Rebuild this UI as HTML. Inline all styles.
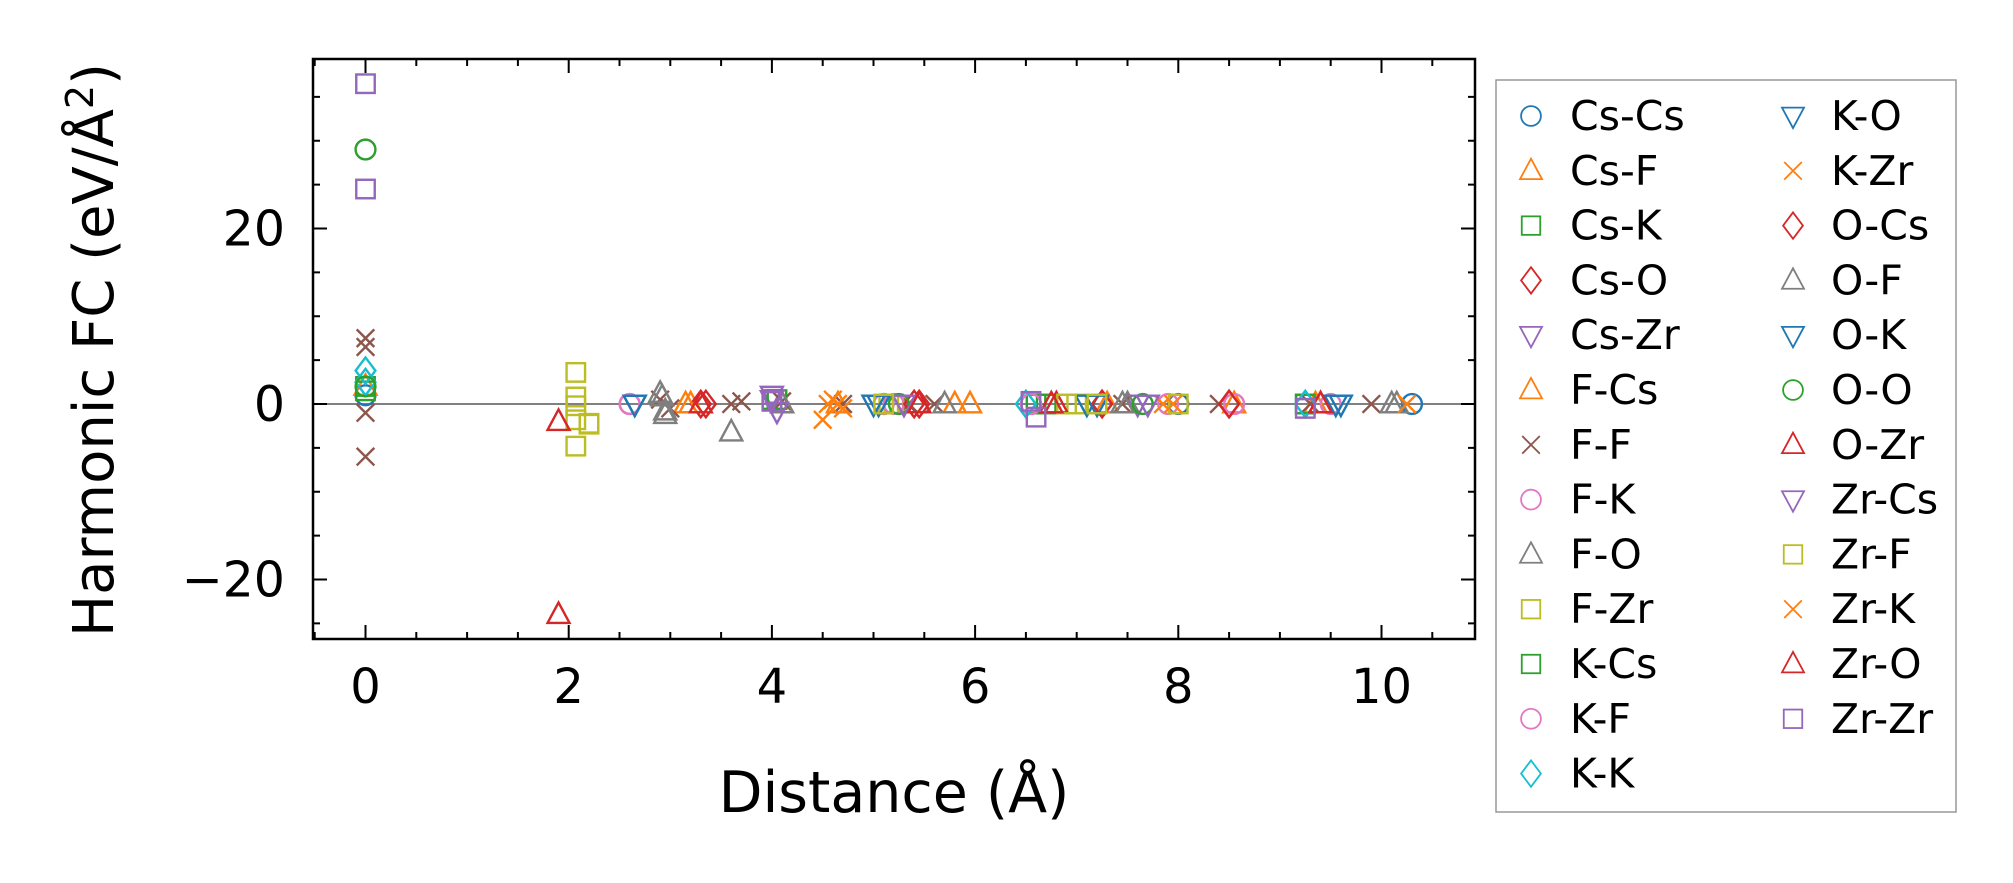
<!DOCTYPE html>
<html><head><meta charset="utf-8"><style>
html,body{margin:0;padding:0;background:#fff}
svg{display:block;font-family:"DejaVu Sans","Liberation Sans",sans-serif}
</style></head><body>
<svg id="chart" width="2013" height="883" viewBox="0 0 2013 883">
<g id="axes"></g>
<g id="marks"></g>
<g id="legend"></g>
</svg>
<script>
const xTicks=[0,2,4,6,8,10];
const yTicks=[-20,0,20];
const seriesNames=["Cs-Cs","Cs-F","Cs-K","Cs-O","Cs-Zr","F-Cs","F-F","F-K","F-O","F-Zr","K-Cs","K-F","K-K","K-O","K-Zr","O-Cs","O-F","O-K","O-O","O-Zr","Zr-Cs","Zr-F","Zr-K","Zr-O","Zr-Zr"];
const seriesColors=["#1f77b4","#ff7f0e","#2ca02c","#d62728","#9467bd","#ff7f0e","#8c564b","#e377c2","#7f7f7f","#bcbd22","#2ca02c","#e377c2","#17becf","#1f77b4","#ff7f0e","#d62728","#7f7f7f","#1f77b4","#2ca02c","#d62728","#9467bd","#bcbd22","#ff7f0e","#d62728","#9467bd"];
const seriesMarkers=["o","^","s","D","v","^","x","o","^","s","s","o","D","v","x","D","^","v","o","^","v","s","x","^","s"];
const seriesX=[
[0,5.1,6.55,8.0,10.3],
[0,3.2,5.95,7.3,8.55],
[0,4.0,6.6,9.25],
[3.3,5.45,7.25,8.5],
[4.0,5.3,7.6],
[3.15,4.65,5.8,9.35],
[0,0,0,0,2.9,3.0,3.6,3.7,4.1,4.7,5.35,5.6,7.45,8.4,9.3,9.9],
[2.6,5.1,8.55,9.5],
[2.9,2.95,3.6,4.1,5.7,7.5,10.1],
[2.07,2.07,2.07,2.07,2.2,5.15,5.2,7.0],
[0,4.05,6.7,9.25],
[2.6,5.2,6.55,7.9],
[0,0,6.5,9.25],
[2.65,5.05,7.1,9.6],
[4.5,4.6,4.7,7.85],
[3.35,5.4,7.25,8.5],
[2.92,2.95,4.1,7.45,10.15],
[2.65,5.0,7.2,9.55],
[0,0,5.25,7.65],
[1.9,1.9,5.45,6.8,9.4],
[4.0,4.05,5.3,7.7],
[2.07,2.2,5.1,6.9,7.2,8.0],
[4.55,4.65,7.95,10.25],
[3.3,5.45,6.75,9.4],
[0,0,4.0,6.55,6.6,9.25]];
const seriesY=[
[1,0,0,0,0],
[2,0,0,0,0],
[2,0.5,0,0],
[0,0,0,0],
[1,0,0],
[0,0,0,0],
[7.5,6.5,-1,-6,0.5,-0.5,0,0.3,0.3,0,0,0,0,0,0,0],
[0,0,0,0],
[1.2,-1.2,-3.2,0,0,0,0],
[3.6,0.8,-1.8,-4.8,-2.2,0,0,0],
[1.5,0.5,0,0],
[0,0,0,0],
[3.8,2.5,0,0],
[0,0,0,0],
[-1.8,0.5,-0.5,0],
[0,0,0,0],
[0.8,-0.8,0,0,0],
[0,0,0,0],
[29,2,0,0],
[-2,-24,0,0,0],
[0.5,-0.8,0,0],
[-0.2,-2.3,0,0,0,0],
[0,0,0,0],
[0,0,0,0],
[36.5,24.5,0.3,0.3,-1.5,-0.5]];

const L=313,R=1475,T=59,B=639;
const xs=v=>365.5+v*101.6;
const ys=v=>404-v*8.775;
const NS="http://www.w3.org/2000/svg";
function mk(tag,attrs,parent){const e=document.createElementNS(NS,tag);for(const k in attrs)e.setAttribute(k,attrs[k]);parent.appendChild(e);return e;}
const axes=document.getElementById('axes');
const zl=mk('line',{x1:L,x2:R,y1:ys(0),y2:ys(0),stroke:'#808080','stroke-width':2},axes);


for(let v=-0.5;v<=10.8;v+=0.5){
 const major=Math.abs(v%2)<1e-9;
 const len=major?14:7;
 const x=xs(v);
 mk('line',{x1:x,x2:x,y1:B,y2:B-len,stroke:'#000','stroke-width':2},axes);
 mk('line',{x1:x,x2:x,y1:T,y2:T+len,stroke:'#000','stroke-width':2},axes);
}
for(let v=-25;v<=35;v+=5){
 const major=v%20===0;const len=major?14:7;const y=ys(v);
 if(y<T||y>B) continue;
 mk('line',{x1:L,x2:L+len,y1:y,y2:y,stroke:'#000','stroke-width':2},axes);
 mk('line',{x1:R,x2:R-len,y1:y,y2:y,stroke:'#000','stroke-width':2},axes);
}
xTicks.forEach(v=>{const t=mk('text',{x:xs(v),y:B+64,'font-size':48,'text-anchor':'middle'},axes);t.textContent=v;

});
yTicks.forEach(v=>{const t=mk('text',{x:L-28,y:ys(v)+17,'font-size':49,'text-anchor':'end'},axes);t.textContent=v<0?'\u2212'+Math.abs(v):v;

});
const fr=mk('rect',{x:L,y:T,width:R-L,height:B-T,fill:'none',stroke:'#000','stroke-width':2.5},axes);


const xl=mk('text',{x:(L+R)/2,y:812,'font-size':57,'text-anchor':'middle'},axes);xl.textContent='Distance (Å)';


const yl=mk('text',{x:0,y:0,'font-size':56,'text-anchor':'middle',transform:'translate(113,350) rotate(-90)'},axes);
yl.innerHTML='Harmonic FC (eV/Å<tspan dy="-20" font-size="38">2</tspan><tspan dy="20">)</tspan>';



function marker(g,type,x,y,c,s,w){
 const a={fill:'none',stroke:c,'stroke-width':w};
 let e;
 if(type==='o') e=mk('circle',Object.assign({cx:x,cy:y,r:s*0.45},a),g);
 else if(type==='s') e=mk('rect',Object.assign({x:x-s*0.42,y:y-s*0.42,width:s*0.84,height:s*0.84},a),g);
 else if(type==='^') e=mk('polygon',Object.assign({points:`${x},${y-s*0.55} ${x-s*0.5},${y+s*0.38} ${x+s*0.5},${y+s*0.38}`},a),g);
 else if(type==='v') e=mk('polygon',Object.assign({points:`${x},${y+s*0.55} ${x-s*0.5},${y-s*0.38} ${x+s*0.5},${y-s*0.38}`},a),g);
 else if(type==='D') e=mk('polygon',Object.assign({points:`${x},${y-s*0.6} ${x+s*0.45},${y} ${x},${y+s*0.6} ${x-s*0.45},${y}`},a),g);
 else {e=mk('path',Object.assign({d:`M${x-s*0.4},${y-s*0.4}L${x+s*0.4},${y+s*0.4}M${x-s*0.4},${y+s*0.4}L${x+s*0.4},${y-s*0.4}`},a),g);}
 return e;
}
const marks=document.getElementById('marks');
seriesNames.forEach((n,i)=>{
 const g=mk('g',{},marks);
 
 
 seriesX[i].forEach((xv,j)=>{
  const m=marker(g,seriesMarkers[i],xs(xv),ys(seriesY[i][j]),seriesColors[i],22,2.4);
  
  
 });
});
const leg=document.getElementById('legend');
const lb=mk('rect',{x:1496,y:80,width:460,height:732,fill:'#fff',stroke:'#999','stroke-width':1.5},leg);


seriesNames.forEach((n,i)=>{
 const col=i<13?0:1,row=i<13?i:i-13;
 const y=116+row*54.8;
 const mx=col?1793:1531,tx=col?1831:1570;
 const g=mk('g',{},leg);
 
 
 marker(g,seriesMarkers[i],mx,y,seriesColors[i],22,1.8);
 const t=mk('text',{x:tx,y:y+14,'font-size':41},g);t.textContent=n;
});
</script>
</body></html>
